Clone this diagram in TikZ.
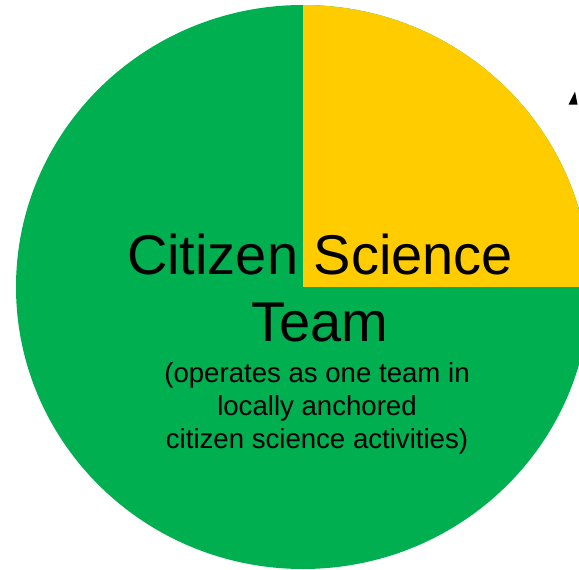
\documentclass[tikz,border=0pt]{standalone}
\usepackage{fontspec}
\setmainfont{Liberation Sans}
\definecolor{teamgreen}{HTML}{00AF50}
\definecolor{teamyellow}{HTML}{FFCC00}
\tikzset{
  title/.style={align=center, font=\fontsize{56}{67}\selectfont, inner sep=0pt, anchor=base},
  subtitle/.style={align=center, font=\fontsize{27.6}{33}\selectfont, inner sep=0pt, anchor=base},
}
\begin{document}
\begin{tikzpicture}[x=1pt, y=-1pt]
  \useasboundingbox (0,0) rectangle (579,570);
  \clip (0,0) rectangle (579,570);
  % team disc
  \fill[teamgreen] (303,287) ellipse [x radius=287, y radius=282];
  % upper right quarter
  \begin{scope}
    \clip (303,287) ellipse [x radius=287, y radius=282];
    \fill[teamyellow] (303,0) rectangle (600,287);
  \end{scope}
  % arrow tip entering from the right
  \fill[black] (568.5,104.5) -- (575,91.5) -- (577.5,104.5) -- cycle;
  % labels (base anchor sits on the last line)
  \node[title] (name) at (320,341.7) {Citizen Science\\Team};
  \node[subtitle] (note) at (317,448) {(operates as one team in\\locally anchored\\citizen science activities)};
\end{tikzpicture}
\end{document}
